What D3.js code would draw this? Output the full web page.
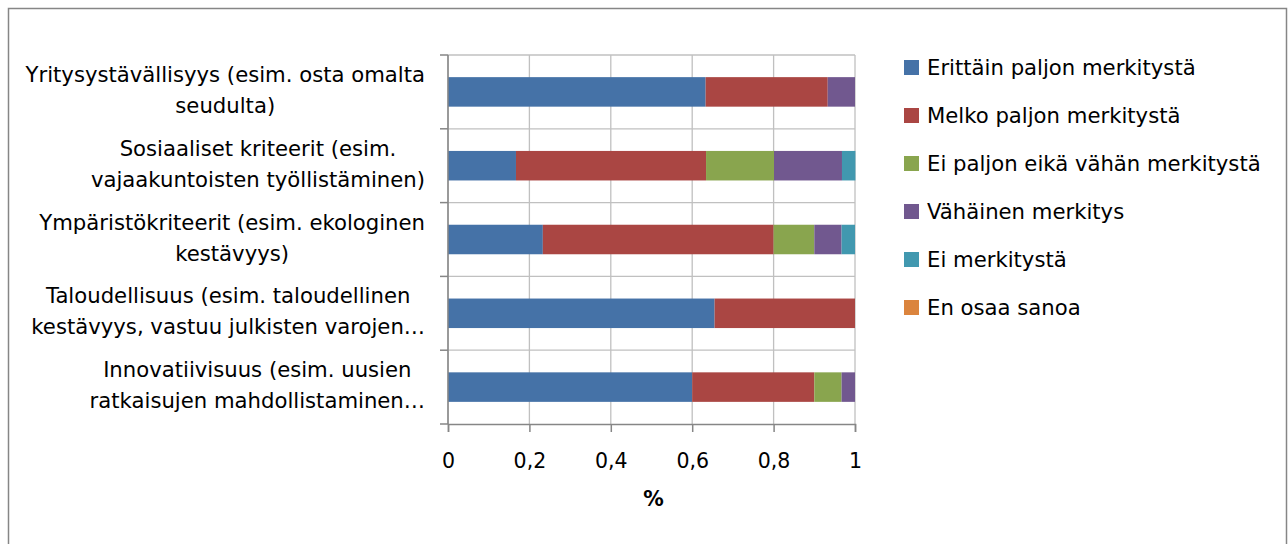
<!DOCTYPE html>
<html><head><meta charset="utf-8">
<script src="https://cdn.jsdelivr.net/npm/d3@7"></script>
<style>body{margin:0;background:#fff}svg text{font-family:"DejaVu Sans",sans-serif;fill:#000}</style>
</head><body><svg id="c" width="1288" height="544"></svg>
<script>
const categories = [
  ["Yritysystävällisyys (esim. osta omalta", "seudulta)"],
  ["Sosiaaliset kriteerit (esim.", "vajaakuntoisten työllistäminen)"],
  ["Ympäristökriteerit (esim. ekologinen", "kestävyys)"],
  ["Taloudellisuus (esim. taloudellinen", "kestävyys, vastuu julkisten varojen…"],
  ["Innovatiivisuus (esim. uusien", "ratkaisujen mahdollistaminen…"]
];
const seriesNames = ["Erittäin paljon merkitystä","Melko paljon merkitystä","Ei paljon eikä vähän merkitystä","Vähäinen merkitys","Ei merkitystä","En osaa sanoa"];
const colors = ["#4572A7","#AA4643","#89A54E","#71588F","#4198AF","#DB843D"];
const erittain = [0.633, 0.167, 0.233, 0.655, 0.600];
const melko    = [0.300, 0.467, 0.567, 0.345, 0.300];
const eiPaljon = [0.000, 0.167, 0.100, 0.000, 0.067];
const vahainen = [0.067, 0.167, 0.067, 0.000, 0.033];
const eiMerk   = [0.000, 0.033, 0.033, 0.000, 0.000];
const enOsaa   = [0, 0, 0, 0, 0];
const tickValues = [0, 0.2, 0.4, 0.6, 0.8, 1];
const tickLabels = ["0","0,2","0,4","0,6","0,8","1"];
const series = [erittain, melko, eiPaljon, vahainen, eiMerk, enOsaa];

const svg = d3.select("#c");
svg.append("rect").attr("x",8.5).attr("y",8.5).attr("width",1278).attr("height",560).attr("fill","#fff").attr("stroke","#868686").attr("stroke-width",1.5);

const L=448, R=855, T=55, B=424;
const x = d3.scaleLinear().domain([0,1]).range([L,R]);
const y = d3.scaleBand().domain(d3.range(categories.length)).range([T,B]).paddingInner(0.6).paddingOuter(0.3);
const yb = d3.scaleBand().domain(d3.range(categories.length)).range([T,B]);

const grid = svg.append("g");
tickValues.forEach(v=>grid.append("line").attr("x1",x(v)).attr("x2",x(v)).attr("y1",T).attr("y2",B).attr("stroke","#c0c0c0").attr("stroke-width",1.3));
d3.range(categories.length).forEach(i=>grid.append("line").attr("x1",L).attr("x2",R).attr("y1",yb(i)).attr("y2",yb(i)).attr("stroke","#c0c0c0").attr("stroke-width",1.3));

const stackData = categories.map((c,i)=>{const o={i}; series.forEach((s,k)=>o["s"+k]=s[i]); return o;});
const stack = d3.stack().keys(series.map((s,k)=>"s"+k))(stackData);
svg.append("g").selectAll("g").data(stack).join("g").attr("fill",(d,k)=>colors[k])
  .selectAll("rect").data(d=>d).join("rect")
  .attr("x",d=>x(d[0])).attr("width",d=>x(d[1])-x(d[0]))
  .attr("y",d=>y(d.data.i)).attr("height",y.bandwidth());

// axes
const xAxis = d3.axisBottom(x).tickValues(tickValues).tickFormat((d,i)=>tickLabels[i]).tickSize(8);
const gx = svg.append("g").attr("transform",`translate(0,${B})`).call(xAxis);
gx.select(".domain").attr("stroke","#868686").attr("stroke-width",1.5);
gx.selectAll(".tick line").attr("stroke","#868686").attr("stroke-width",1.5);
gx.selectAll("text").attr("font-size",20.5).attr("fill","#000").attr("dy",null).attr("y",44);

const gy = svg.append("g");
gy.append("line").attr("x1",L).attr("x2",L).attr("y1",T).attr("y2",B).attr("stroke","#868686").attr("stroke-width",1.5);
d3.range(categories.length+1).forEach(i=>{const yy=T+(B-T)*i/categories.length; gy.append("line").attr("x1",L-8).attr("x2",L).attr("y1",yy).attr("y2",yy).attr("stroke","#868686").attr("stroke-width",1.5);});

const labelRight = 425;
categories.forEach((lines,i)=>{
  const cy = yb(i)+yb.bandwidth()/2;
  const g = svg.append("g");
  const ts = lines.map((t,j)=>g.append("text").attr("font-size",21.2).attr("text-anchor","middle").attr("y",cy-10+j*31).text(t));
  const maxW = d3.max(ts,t=>t.node().getComputedTextLength());
  ts.forEach(t=>t.attr("x",labelRight-maxW/2));
});

svg.append("text").attr("x",(L+R)/2+2).attr("y",506).attr("text-anchor","middle").attr("font-size",20.5).attr("font-weight","bold").text("%");

const lg = svg.append("g");
seriesNames.forEach((n,k)=>{
  const yy = 67.5 + k*48;
  lg.append("rect").attr("x",904).attr("y",yy-7.5).attr("width",15).attr("height",15).attr("fill",colors[k]);
  lg.append("text").attr("x",927).attr("y",yy+7.5).attr("font-size",21.2).text(n);
});
</script></body></html>
